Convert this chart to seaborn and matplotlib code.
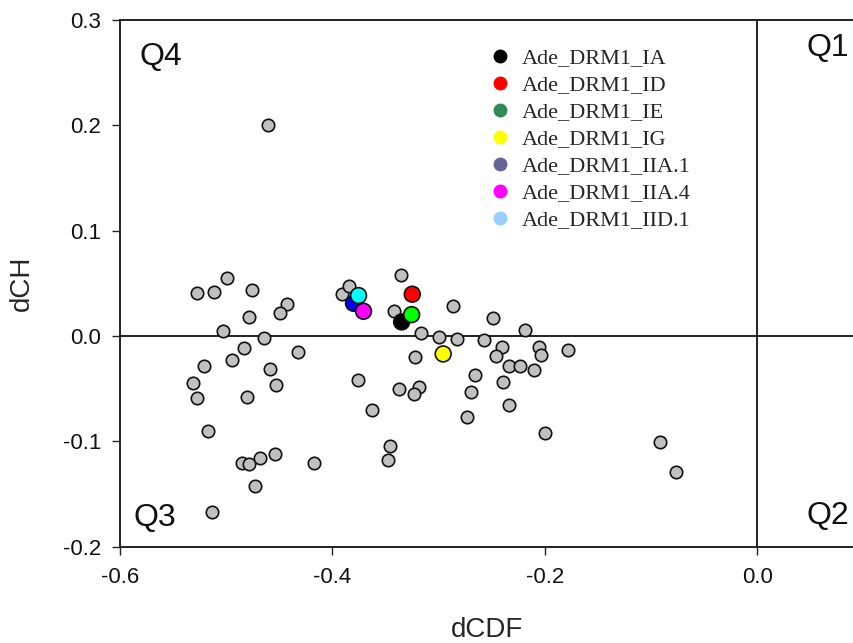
import matplotlib
matplotlib.use("Agg")
import matplotlib.pyplot as plt
from matplotlib.lines import Line2D
import seaborn as sns
import pandas as pd

# Background structures (grey)
bg_dcdf = [-0.5274, -0.5113, -0.4992, -0.4756, -0.4429, -0.4489, -0.4784, -0.5033,
           -0.4646, -0.4835, -0.4322, -0.4949, -0.5207, -0.4584, -0.5308, -0.4534,
           -0.5274, -0.4803, -0.3908, -0.3845, -0.3358, -0.3417, -0.2869, -0.2492,
           -0.2187, -0.3167, -0.2997, -0.2828, -0.2570, -0.2400, -0.3225, -0.2456,
           -0.2336, -0.2236, -0.2104, -0.2661, -0.2391, -0.3758, -0.3371, -0.3186,
           -0.3236, -0.2699, -0.2337, -0.3630, -0.2730, -0.2059, -0.2036, -0.1778,
           -0.1994, -0.0918, -0.0767, -0.5170, -0.4851, -0.4788, -0.4679, -0.4543,
           -0.4170, -0.3456, -0.3478, -0.4731, -0.5136, -0.4608]
bg_dch = [0.0412, 0.0422, 0.0552, 0.0441, 0.0305, 0.0222, 0.0181, 0.0051,
          -0.0018, -0.0116, -0.0148, -0.0224, -0.0287, -0.0315, -0.0448, -0.0467,
          -0.0585, -0.0578, 0.0397, 0.0476, 0.0583, 0.0241, 0.0286, 0.0172,
          0.0061, 0.0032, -0.0009, -0.0028, -0.0037, -0.0101, -0.0198, -0.0189,
          -0.0281, -0.0281, -0.0325, -0.0369, -0.0433, -0.0417, -0.0505, -0.0480,
          -0.0547, -0.0528, -0.0654, -0.0699, -0.0765, -0.0106, -0.0180, -0.0129,
          -0.0917, -0.1009, -0.1291, -0.0901, -0.1205, -0.1218, -0.1161, -0.1117,
          -0.1205, -0.1047, -0.1180, -0.1427, -0.1668, 0.2005]

# Highlighted Ade_DRM1 structures
hl_names = ["Ade_DRM1_IA", "Ade_DRM1_ID", "Ade_DRM1_IE", "Ade_DRM1_IG",
            "Ade_DRM1_IIA.1", "Ade_DRM1_IIA.4", "Ade_DRM1_IID.1"]
hl_dcdf = [-0.3348, -0.3248, -0.3254, -0.2957, -0.3801, -0.3707, -0.3754]
hl_dch = [0.0134, 0.0397, 0.0203, -0.0170, 0.0311, 0.0235, 0.0384]
point_colors = ["#000000", "#FF0000", "#00FF00", "#FFFF00", "#0000FF", "#FF00FF", "#00FFFF"]
legend_colors = ["#000000", "#FF0000", "#2E8B57", "#FFFF00", "#646496", "#FF00FF", "#99CCFF"]

x_ticks = [-0.6, -0.4, -0.2, 0.0]
y_ticks = [-0.2, -0.1, 0.0, 0.1, 0.2, 0.3]

sns.set_style("ticks")
plt.rcParams["font.family"] = ["Liberation Sans", "DejaVu Sans"]

W, H = 854, 643
fig = plt.figure(figsize=(W / 100, H / 100), dpi=100)
left, right, top, bottom = 120, 854, 20, 546.7
ax = fig.add_axes([left / W, (H - bottom) / H, (right - left) / W, (bottom - top) / H])

bg = pd.DataFrame({"dCDF": bg_dcdf, "dCH": bg_dch})
hl = pd.DataFrame({"dCDF": hl_dcdf, "dCH": hl_dch, "name": hl_names})

ax.axhline(0, color="#222222", lw=1.4, zorder=1)
ax.axvline(0, color="#222222", lw=1.4, zorder=1)

sns.scatterplot(data=bg, x="dCDF", y="dCH", ax=ax, s=80, color="#C0C0C0",
                edgecolor="#111111", linewidth=1.2, zorder=3, legend=False)
sns.scatterplot(data=hl, x="dCDF", y="dCH", hue="name", hue_order=hl_names,
                palette=point_colors, ax=ax, s=130, edgecolor="#111111",
                linewidth=1.2, zorder=4, legend=False)

ax.set_xlim(-0.6, (854 - 757.3) / 1061)
ax.set_ylim(-0.2, 0.3)
ax.set_xticks(x_ticks)
ax.set_xticklabels([f"{v:.1f}" for v in x_ticks])
ax.set_yticks(y_ticks)
ax.set_yticklabels([f"{v:.1f}" for v in y_ticks])
ax.tick_params(axis="both", direction="out", length=5.5, width=1.0,
               labelsize=16, color="#222222", labelcolor="#111111")
ax.tick_params(axis="x", pad=9)
ax.tick_params(axis="y", pad=8)
ax.spines["right"].set_visible(False)
for sp in ["left", "bottom", "top"]:
    ax.spines[sp].set_linewidth(1.4)
    ax.spines[sp].set_color("#222222")

ax.set_xlabel("dCDF", fontsize=20, labelpad=21)
ax.set_ylabel("dCH", fontsize=20, labelpad=20)

q_kw = dict(fontsize=23, color="#111111", va="center")
ax.text(-0.582, 0.265, "Q4", ha="left", **q_kw)
ax.text(0.087, 0.273, "Q1", ha="right", **q_kw)
ax.text(-0.5877, -0.1723, "Q3", ha="left", **q_kw)
ax.text(0.087, -0.1706, "Q2", ha="right", **q_kw)

handles = [Line2D([0], [0], marker="o", linestyle="", markersize=9,
                  markerfacecolor=c, markeredgecolor=c) for c in legend_colors]
leg = ax.legend(handles, hl_names, loc="upper left",
                bbox_to_anchor=(490 / W, 1 - 48 / H), bbox_transform=fig.transFigure,
                frameon=False, handletextpad=0.55, labelspacing=0.29,
                handlelength=0.9, borderaxespad=0, borderpad=0,
                prop={"family": "Liberation Serif", "size": 16})

fig.savefig("out.png", dpi=100)
